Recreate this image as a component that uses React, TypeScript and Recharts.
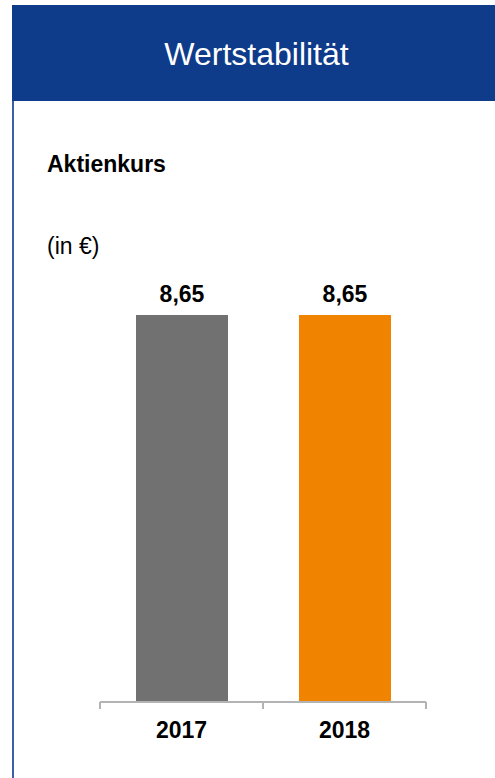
import React from "react";
import { BarChart, Bar, XAxis, YAxis, Cell, LabelList } from "recharts";

const categories = ["2017", "2018"];
const values = [8.65, 8.65];
const valueLabels = ["8,65", "8,65"];
const colors = ["#717171", "#f08300"];

const data = categories.map((c, i) => ({ year: c, value: values[i], label: valueLabels[i] }));

const FONT = "'Liberation Sans', Arial, Helvetica, sans-serif";

const YearTick = (props: any) => {
  const { x, y, payload } = props;
  const off = payload.offset || 0;
  const axisY = y - 7;
  return (
    <g>
      <line x1={x - off} y1={axisY} x2={x - off} y2={axisY + 7} stroke="#b3b3b3" strokeWidth={2} />
      <line x1={x + off} y1={axisY} x2={x + off} y2={axisY + 7} stroke="#b3b3b3" strokeWidth={2} />
      <text x={x} y={y + 29} textAnchor="middle" fontFamily={FONT} fontWeight="bold" fontSize={23} fill="#000">
        {payload.value}
      </text>
    </g>
  );
};

const ValueLabel = (props: any) => {
  const { x, y, width, index } = props;
  return (
    <text x={x + width / 2} y={y - 13.5} textAnchor="middle" fontFamily={FONT} fontWeight="bold" fontSize={23} fill="#000">
      {valueLabels[index]}
    </text>
  );
};

export default function App() {
  return (
    <div style={{ position: "absolute", left: 0, top: 0, width: 495, height: 778, background: "#fff", fontFamily: FONT, overflow: "hidden" }}>
      <div style={{ position: "absolute", left: 12, top: 5, width: 483, height: 96, background: "#0e3b8a" }} />
      <div style={{ position: "absolute", left: 12, top: 101, width: 2, height: 677, background: "#3d5fa9" }} />
      <div style={{ position: "absolute", left: 15, top: 37.9, width: 483, textAlign: "center", color: "#fff", fontSize: 32, lineHeight: "32px" }}>
        Wertstabilität
      </div>
      <div style={{ position: "absolute", left: 47, top: 152.5, fontSize: 23, lineHeight: "23px", fontWeight: "bold", color: "#000" }}>
        Aktienkurs
      </div>
      <div style={{ position: "absolute", left: 47, top: 235, fontSize: 23, lineHeight: "23px", color: "#000" }}>
        (in €)
      </div>
      <div style={{ position: "absolute", left: 0, top: 0 }}>
        <BarChart width={495} height={778} data={data} margin={{ top: 315, right: 69, bottom: 0, left: 100 }}>
          <YAxis hide domain={[0, 8.65]} />
          <XAxis
            dataKey="year"
            axisLine={{ stroke: "#b3b3b3", strokeWidth: 2 }}
            tickLine={false}
            tickSize={7}
            tickMargin={0}
            tick={<YearTick />}
            height={76}
            interval={0}
          />
          <Bar dataKey="value" barSize={92} isAnimationActive={false}>
            {data.map((d, i) => (
              <Cell key={d.year} fill={colors[i]} />
            ))}
            <LabelList dataKey="label" content={<ValueLabel />} />
          </Bar>
        </BarChart>
      </div>
    </div>
  );
}
